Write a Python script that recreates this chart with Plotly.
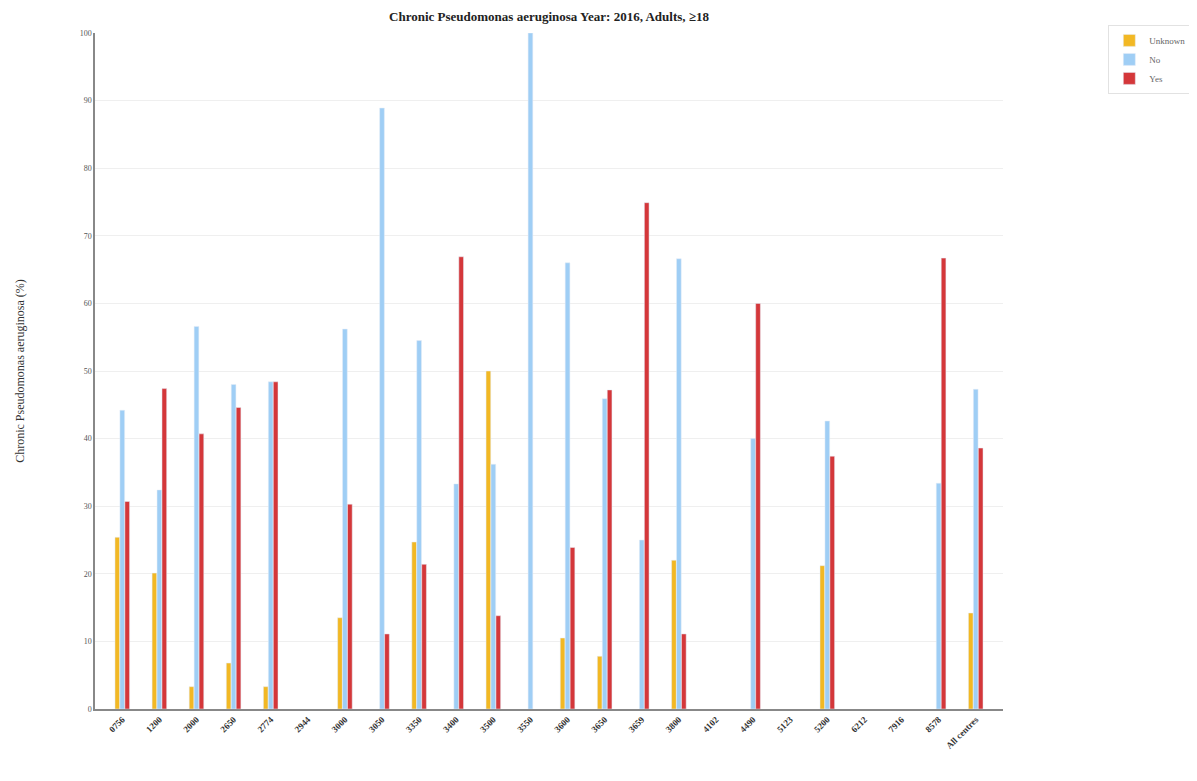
import plotly.graph_objects as go

categories = ["0756", "1200", "2000", "2650", "2774", "2944", "3000", "3050", "3350", "3400",
              "3500", "3550", "3600", "3650", "3659", "3800", "4102", "4490", "5123", "5200",
              "6212", "7916", "8578", "All centres"]

unknown = [25.4, 20.1, 3.3, 6.8, 3.3, None, 13.5, None, 24.7, None,
           50.0, None, 10.5, 7.8, None, 22.0, None, None, None, 21.2,
           None, None, None, 14.2]
no_vals = [44.2, 32.4, 56.6, 48.0, 48.4, None, 56.2, 88.9, 54.5, 33.3,
           36.2, 100.0, 66.0, 45.9, 25.0, 66.6, None, 40.0, None, 42.6,
           None, None, 33.4, 47.3]
yes_vals = [30.7, 47.4, 40.7, 44.6, 48.4, None, 30.3, 11.1, 21.4, 66.9,
            13.8, None, 23.9, 47.2, 74.9, 11.1, None, 60.0, None, 37.4,
            None, None, 66.7, 38.6]

serif = "Liberation Serif, DejaVu Serif, serif"

fig = go.Figure()
fig.add_trace(go.Bar(name="Unknown", x=categories, y=unknown, marker_color="#F2B824"))
fig.add_trace(go.Bar(name="No", x=categories, y=no_vals, marker_color="#9FCEF5"))
fig.add_trace(go.Bar(name="Yes", x=categories, y=yes_vals, marker_color="#D4373A"))

W, H = 1181, 765
fig.update_layout(
    width=W, height=H,
    paper_bgcolor="white", plot_bgcolor="white",
    barmode="group", bargap=0.6, bargroupgap=0.05,
    margin=dict(l=87, r=186, t=25, b=64, autoexpand=False),
    title=dict(text="<b>Chronic Pseudomonas aeruginosa Year: 2016, Adults, \u226518</b>",
               x=0.5, xref="paper", y=1 - 8 / H, yref="container", yanchor="middle",
               font=dict(family=serif, size=13, color="#222")),
    font=dict(family=serif, color="#333"),
    legend=dict(x=1.116, xanchor="left", y=1.012, yanchor="top",
                xref="paper", yref="paper",
                bordercolor="#e2e2e2", borderwidth=1, bgcolor="white",
                font=dict(family=serif, size=9, color="#666"),
                itemwidth=30, tracegroupgap=0),
    xaxis=dict(type="category", tickangle=-45, showgrid=False, automargin=False,
               showline=True, linecolor="#888", linewidth=1.5,
               tickmode="array", tickvals=categories,
               ticktext=["<b>" + c + "</b>" for c in categories],
               tickfont=dict(family=serif, size=9, color="#333"),
               ticks="", range=[-0.735, 23.735]),
    yaxis=dict(range=[0, 100], dtick=10, showgrid=True, gridcolor="#efefef", automargin=False,
               gridwidth=1, showline=True, linecolor="#888", linewidth=1.5,
               zeroline=False, ticks="", tickfont=dict(family=serif, size=8, color="#555"),
               title=dict(text="Chronic Pseudomonas aeruginosa (%)",
                          font=dict(family=serif, size=12, color="#333"), standoff=52)),
)

fig.write_html("out.html")
